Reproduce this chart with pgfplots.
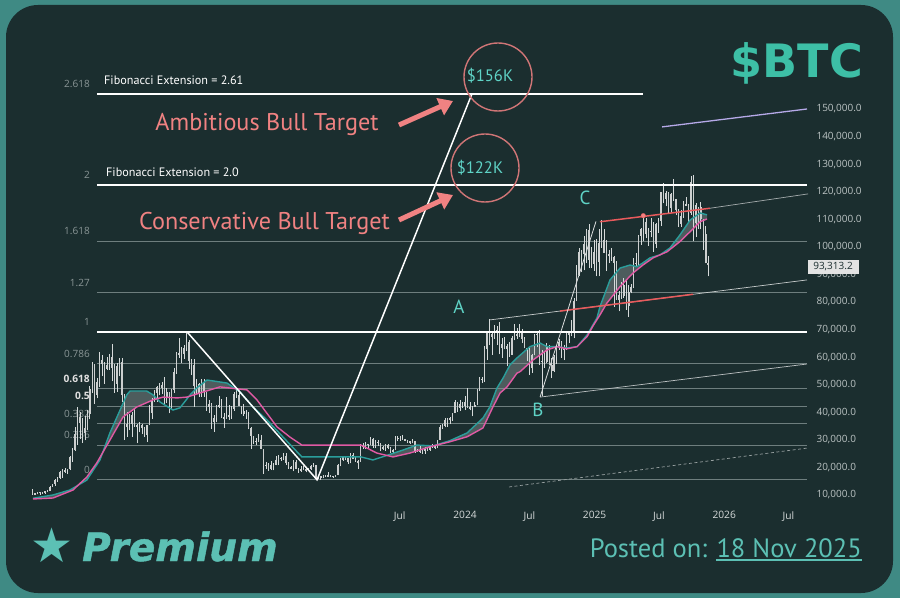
\documentclass[border=0pt]{standalone}
\usepackage{pgfplots}
\pgfplotsset{compat=1.18}
\usetikzlibrary{arrows.meta}
\usepackage{pgfplotstable}
\usepackage{fontspec}
\setmainfont{PT Sans}
\newfontfamily\axfont{Open Sans}
\newfontfamily\btcfont{DejaVu Sans}
\newfontfamily\premfont[FakeBold=1.2]{DejaVu Sans}
\newfontfamily\symfont{DejaVu Sans}
\pgfplotsset{/pgf/number format/assume math mode=true}

\definecolor{outer}{HTML}{3F8A84}
\definecolor{panel}{HTML}{1B2E2F}
\definecolor{btcteal}{HTML}{3DBFA6}
\definecolor{premteal}{HTML}{5CC0B4}
\definecolor{txtteal}{HTML}{5FD3C6}
\definecolor{salmon}{HTML}{F08282}
\definecolor{maT}{HTML}{2A9E9B}
\definecolor{maP}{HTML}{E05AA4}
\definecolor{fibgray}{HTML}{6E7E7E}
\definecolor{labgray}{HTML}{8A9696}
\definecolor{candle}{HTML}{D6DADA}
\definecolor{redline}{HTML}{E85A5C}
\definecolor{lav}{HTML}{B6A9E8}
\definecolor{cloud}{HTML}{8A9696}
\definecolor{ticklab}{HTML}{BCC4C4}
\definecolor{xlab}{HTML}{D6DADA}

\pgfplotstableread{
w o h l c
0 11.7 12.1 9.9 10.3
1 10.3 10.8 9.9 10.7
2 10.7 11.2 10.2 11.1
3 11.1 11.2 10.1 10.8
4 10.8 11.0 10.4 10.7
5 10.7 11.5 10.5 11.4
6 11.4 11.7 11.2 11.5
7 11.5 13.2 11.4 13.0
8 13.0 14.0 12.9 13.8
9 13.8 15.9 13.2 15.5
10 15.5 16.5 14.8 16.0
11 16.0 18.8 15.8 18.4
12 18.4 19.4 16.2 18.2
13 18.2 19.9 18.0 19.2
14 19.2 19.4 17.6 19.3
15 19.3 24.3 19.0 23.8
16 23.8 26.9 21.9 26.4
17 26.4 34.8 26.0 32.2
18 32.2 42.0 28.1 38.2
19 38.2 40.1 30.4 36.0
20 36.0 37.8 28.9 32.3
21 32.3 38.5 29.8 34.3
22 34.3 40.9 33.4 39.3
23 39.3 49.7 37.4 48.6
24 48.6 58.4 47.0 57.5
25 57.5 57.6 43.0 46.2
26 46.2 52.6 45.0 51.0
27 51.0 61.7 49.3 59.0
28 59.0 60.6 53.3 57.4
29 57.4 58.4 50.4 55.8
30 55.8 60.0 55.5 57.1
31 57.1 61.0 55.5 60.0
32 60.0 64.9 51.2 56.2
33 56.2 57.5 47.0 50.1
34 50.1 57.9 47.5 56.6
35 56.6 59.6 53.0 58.3
36 58.3 59.6 43.8 46.4
37 46.4 46.6 30.0 34.7
38 34.7 40.0 31.1 35.7
39 35.7 39.5 33.4 35.8
40 35.8 40.0 31.0 39.1
41 39.1 41.3 34.8 35.5
42 35.5 35.7 28.8 34.7
43 34.7 36.6 32.7 35.3
44 35.3 35.9 32.1 34.3
45 34.3 34.7 31.2 31.8
46 31.8 35.4 29.3 35.4
47 35.4 42.6 35.2 39.8
48 39.8 45.3 37.6 44.6
49 44.6 48.1 43.8 47.1
50 47.1 49.4 43.9 49.0
51 49.0 50.5 46.4 48.8
52 48.8 51.0 46.6 49.9
53 49.9 52.9 42.8 45.2
54 45.2 48.8 43.4 47.3
55 47.3 47.4 39.6 43.2
56 43.2 48.4 40.8 48.2
57 48.2 56.1 47.0 54.7
58 54.7 62.0 53.9 61.5
59 61.5 67.0 59.6 60.9
60 60.9 63.7 57.9 61.3
61 61.3 64.3 59.5 63.3
62 63.3 69.0 62.3 65.5
63 65.5 66.3 55.6 58.6
64 58.6 59.3 53.5 57.3
65 57.3 59.2 42.0 49.4
66 49.4 51.9 46.8 50.1
67 50.1 50.5 45.5 46.7
68 46.7 52.0 45.6 50.8
69 50.8 52.1 45.7 47.3
70 47.3 47.5 40.6 41.8
71 41.8 44.4 39.7 43.1
72 43.1 43.5 34.0 36.3
73 36.3 38.9 33.0 37.9
74 37.9 42.6 36.3 42.4
75 42.4 45.9 41.7 42.2
76 42.2 44.8 38.0 38.4
77 38.4 39.8 34.3 37.7
78 37.7 45.4 37.5 38.8
79 38.8 42.5 37.2 38.8
80 38.8 42.3 37.6 41.3
81 41.3 47.4 40.5 46.8
82 46.8 48.2 45.2 46.4
83 46.4 47.2 42.1 42.2
84 42.2 42.4 39.2 40.4
85 40.4 42.9 38.6 39.5
86 39.5 40.7 37.6 38.5
87 38.5 40.0 33.8 34.3
88 34.3 34.5 26.7 31.3
89 31.3 31.3 28.6 29.4
90 29.4 30.5 28.0 29.5
91 29.5 32.2 29.3 29.9
92 29.9 31.7 26.6 26.6
93 26.6 26.8 17.6 20.6
94 20.6 21.8 19.6 21.0
95 21.0 21.5 18.8 19.3
96 19.3 22.4 19.0 20.8
97 20.8 21.6 18.9 20.8
98 20.8 24.3 20.7 22.6
99 22.6 24.6 20.8 23.3
100 23.3 23.6 22.4 23.2
101 23.2 25.2 22.7 24.3
102 24.3 25.2 20.8 21.5
103 21.5 21.9 19.6 20.0
104 20.0 20.6 19.6 19.8
105 19.8 22.7 18.6 21.8
106 21.8 22.8 19.3 19.4
107 19.4 19.7 18.1 18.8
108 18.8 20.4 18.5 19.4
109 19.4 20.5 19.0 19.1
110 19.1 19.7 18.2 19.2
111 19.2 19.7 18.9 19.6
112 19.6 20.9 19.2 20.6
113 20.6 21.5 20.1 20.9
114 20.9 21.0 15.6 16.3
115 16.3 17.2 15.8 16.5
116 16.5 16.8 15.5 16.5
117 16.5 17.4 16.0 17.1
118 17.1 17.4 16.7 17.1
119 17.1 18.4 16.5 16.8
120 16.8 17.0 16.4 16.9
121 16.9 16.9 16.3 16.6
122 16.6 17.2 16.5 17.1
123 17.1 21.1 17.1 20.9
124 20.9 23.4 20.4 22.7
125 22.7 23.8 22.3 23.7
126 23.7 24.2 22.6 23.3
127 23.3 23.4 21.4 21.8
128 21.8 25.2 21.5 24.6
129 24.6 25.1 23.0 23.2
130 23.2 23.9 21.9 22.2
131 22.2 22.6 19.6 22.0
132 22.0 28.5 21.9 28.0
133 28.0 28.8 26.6 27.5
134 27.5 29.2 26.5 28.5
135 28.5 28.6 27.2 28.3
136 28.3 31.0 28.2 30.3
137 30.3 30.5 27.1 27.6
138 27.6 30.0 26.9 29.3
139 29.3 29.8 27.7 28.9
140 28.9 29.0 25.8 26.9
141 26.9 27.6 26.4 27.1
142 27.1 28.4 25.9 28.1
143 28.1 28.4 26.5 27.1
144 27.1 27.4 25.4 25.9
145 25.9 26.8 24.8 26.3
146 26.3 31.4 26.2 30.5
147 30.5 31.3 29.5 30.6
148 30.6 31.4 29.7 30.2
149 30.2 31.8 29.9 30.2
150 30.2 30.4 29.5 29.9
151 29.9 30.0 28.9 29.3
152 29.3 29.7 28.6 29.0
153 29.0 30.2 28.7 29.4
154 29.4 29.7 25.2 26.1
155 26.1 26.8 25.8 26.1
156 26.1 28.1 25.4 25.9
157 25.9 26.4 24.9 25.8
158 25.8 27.4 24.9 26.5
159 26.5 27.5 26.0 26.2
160 26.2 28.1 26.1 27.9
161 27.9 28.6 27.2 27.9
162 27.9 28.0 26.6 27.1
163 27.1 30.0 26.9 30.0
164 30.0 35.2 29.9 34.5
165 34.5 35.9 33.9 35.0
166 35.0 37.9 34.5 37.1
167 37.1 37.9 34.8 37.4
168 37.4 38.4 35.7 37.7
169 37.7 39.9 36.9 39.9
170 39.9 44.5 39.9 43.8
171 43.8 43.8 40.2 41.4
172 41.4 44.3 40.5 43.0
173 43.0 43.8 41.5 42.3
174 42.3 45.9 40.8 43.9
175 43.9 48.9 41.5 41.7
176 41.7 43.6 40.7 41.6
177 41.6 42.2 38.5 42.0
178 42.0 43.9 41.9 42.6
179 42.6 48.5 42.5 48.3
180 48.3 52.8 47.7 52.1
181 52.1 52.9 50.6 51.7
182 51.7 64.0 50.9 63.1
183 63.1 69.2 59.0 68.9
184 68.9 73.8 64.5 68.4
185 68.4 68.9 60.8 67.2
186 67.2 71.7 66.6 69.6
187 69.6 71.3 64.5 69.4
188 69.4 72.8 61.0 63.4
189 63.4 66.9 59.7 64.9
190 64.9 67.2 62.8 63.1
191 63.1 64.7 56.6 63.9
192 63.9 65.5 60.2 60.8
193 60.8 67.5 60.7 67.0
194 67.0 71.9 66.1 68.5
195 68.5 70.6 66.7 67.5
196 67.5 71.9 67.3 69.6
197 69.6 70.2 65.1 66.6
198 66.6 67.2 63.2 63.2
199 63.2 63.3 58.5 62.8
200 62.8 63.8 53.5 55.9
201 55.9 61.0 54.3 60.8
202 60.8 68.4 60.6 68.2
203 68.2 69.4 63.5 68.3
204 68.3 70.0 57.1 58.2
205 58.2 62.7 46.0 58.7
206 58.7 61.8 56.1 58.4
207 58.4 65.0 57.9 64.2
208 64.2 64.5 57.2 57.3
209 57.3 59.8 52.5 54.8
210 54.8 60.6 54.6 59.9
211 59.9 64.1 57.5 63.6
212 63.6 66.5 62.7 65.6
213 65.6 66.0 59.8 62.9
214 62.9 64.5 58.9 62.9
215 62.9 69.4 62.7 69.0
216 69.0 69.5 65.1 68.0
217 68.0 73.6 67.5 68.7
218 68.7 81.5 66.8 80.4
219 80.4 93.5 80.3 89.9
220 89.9 99.6 89.4 98.0
221 98.0 98.7 90.8 97.4
222 97.4 104.0 91.5 101.2
223 101.2 106.5 94.3 106.1
224 106.1 108.4 92.2 95.2
225 95.2 99.9 92.5 93.7
226 93.7 102.5 91.3 98.3
227 98.3 102.7 89.3 94.5
228 94.5 106.3 89.3 101.3
229 101.3 109.6 99.5 102.6
230 102.6 106.5 97.8 97.7
231 97.7 102.5 91.2 96.5
232 96.5 98.8 94.1 97.5
233 97.5 99.5 94.9 96.3
234 96.3 96.5 78.2 94.2
235 94.2 95.0 81.5 80.7
236 80.7 84.0 76.6 82.6
237 82.6 87.4 81.1 86.1
238 86.1 88.8 81.6 82.3
239 82.3 88.5 77.1 78.4
240 78.4 86.1 74.5 83.7
241 83.7 86.4 83.1 85.3
242 85.3 95.8 85.1 93.8
243 93.8 97.9 92.8 94.3
244 94.3 104.3 93.4 104.1
245 104.1 106.8 100.8 106.5
246 106.5 111.9 102.0 109.0
247 109.0 110.4 103.1 104.6
248 104.6 106.8 100.4 105.7
249 105.7 110.6 103.4 105.6
250 105.6 108.9 98.2 100.9
251 100.9 108.5 99.6 108.4
252 108.4 110.6 105.1 109.2
253 109.2 119.9 107.5 119.8
254 119.8 123.2 115.8 117.3
255 117.3 120.2 114.7 119.4
256 119.4 119.9 112.0 114.2
257 114.2 119.4 112.7 119.3
258 119.3 124.5 116.8 117.4
259 117.4 117.5 111.7 113.5
260 113.5 113.6 107.3 108.2
261 108.2 113.4 107.3 111.2
262 111.2 116.7 110.6 115.3
263 115.3 117.9 114.8 115.3
264 115.3 115.4 108.6 112.2
265 112.2 125.6 111.6 123.5
266 123.5 126.2 102.0 115.1
267 115.1 116.0 103.6 108.6
268 108.6 114.6 106.4 114.5
269 114.5 116.3 106.3 110.0
270 110.0 110.2 98.9 104.7
271 104.7 107.5 94.0 94.2
272 94.2 96.6 89.3 93.3
}\btc

\pgfplotstableread{
w v
0.14 8.8
8.2 10.0
15.0 11.8
21.8 15.4
27.1 22.7
31.1 32.5
35.2 40.8
37.9 46.3
39.2 47.7
45.9 47.7
48.5 46.3
51.3 43.7
56.5 40.8
59.3 41.6
63.4 46.3
66.05 48.8
70.2 51.7
78.25 50.6
83.5 47.4
88.7 41.9
94.35 37.2
100.8 31.0
108.4 23.8
132.2 23.8
137.0 22.7
141.1 23.9
149.1 26.3
154.7 28.1
161.2 27.8
168.0 29.7
174.9 32.5
181.3 37.9
184.1 42.0
186.95 48.8
189.4 52.4
192.2 57.2
195.0 59.7
200.2 63.8
204.3 65.1
207.1 63.8
211.1 63.8
215.1 63.3
219.2 63.8
223.2 68.0
227.2 74.2
228.4 78.3
232.45 88.0
236.5 92.3
240.5 93.4
243.3 92.8
245.7 94.2
248.55 96.0
252.6 97.1
256.6 99.6
260.6 104.3
264.7 109.7
268.7 112.3
271.5 111.6
}\tealma

\pgfplotstableread{
w v
0.14 8.55
8.2 8.9
16.25 11.8
21.8 16.5
25.8 21.6
31.1 29.9
36.4 38.3
41.9 41.9
48.5 44.5
52.5 45.5
58.1 45.2
62.1 45.5
67.4 47.0
75.4 49.2
86.3 48.1
90.3 44.5
98.4 34.7
103.6 31.0
108.4 28.1
132.2 28.1
138.6 25.2
145.1 23.8
151.9 25.2
160.0 27.5
168.0 29.3
174.9 31.1
181.3 34.3
185.3 41.9
188.2 47.0
191.0 49.2
195.0 54.2
196.2 54.7
201.5 59.0
207.1 62.6
211.1 63.8
215.1 63.0
219.2 63.8
223.2 67.4
225.6 71.3
228.4 75.3
231.2 79.6
236.5 85.6
241.7 90.5
245.7 93.4
249.8 96.0
255.4 98.2
260.6 101.9
264.7 105.5
268.7 109.1
271.5 110.1
}\pinkma

\begin{document}
\begin{tikzpicture}
\useasboundingbox (0,0) rectangle (900pt,598pt);
\fill[outer] (0,0) rectangle (900pt,598pt);
\fill[panel, rounded corners=32pt] (6pt,5pt) rectangle (893pt,593pt);

\begin{axis}[
  at={(25pt,92pt)}, anchor=south west,
  scale only axis, width=785pt, height=452.15pt,
  xmin=-3.08, xmax=312.97, ymin=6, ymax=170,
  clip=false,
  axis line style={draw=none},
  major tick length=0pt,
  xtick={147.77,174.07,200.02,226.25,252.12,278.42,304.30},
  xticklabels={Jul,2024,Jul,2025,Jul,2026,Jul},
  xticklabel style={font=\axfont\fontsize{10.2}{11}\selectfont, text=xlab, yshift=-2pt},
  ytick={10,20,...,150},
  yticklabels={{10,000.0},{20,000.0},{30,000.0},{40,000.0},{50,000.0},{60,000.0},{70,000.0},{80,000.0},{90,000.0},{100,000.0},{110,000.0},{120,000.0},{130,000.0},{140,000.0},{150,000.0}},
  yticklabel pos=right,
  yticklabel style={font=\axfont\fontsize{10}{11}\selectfont, text=ticklab, anchor=west, xshift=3pt},
]
% thin Fibonacci levels
\addplot[fibgray, line width=0.8pt] coordinates {(25.9,15.5) (311.76,15.5)};
\addplot[fibgray, line width=0.8pt] coordinates {(25.9,28.13) (311.76,28.13)};
\addplot[fibgray, line width=0.8pt] coordinates {(25.9,35.94) (311.76,35.94)};
\addplot[fibgray, line width=0.8pt] coordinates {(25.9,42.25) (311.76,42.25)};
\addplot[fibgray, line width=0.8pt] coordinates {(25.9,48.56) (311.76,48.56)};
\addplot[fibgray, line width=0.8pt] coordinates {(25.9,57.55) (311.76,57.55)};
\addplot[fibgray, line width=0.8pt] coordinates {(25.9,83.45) (311.76,83.45)};
\addplot[fibgray, line width=0.8pt] coordinates {(25.9,102.07) (311.76,102.07)};
% level labels
\begin{scope}[every node/.style={anchor=east, inner sep=0pt, xshift=-7pt, yshift=10pt, font=\axfont\fontsize{10}{11}\selectfont, text=labgray}]
\node at (axis cs:25.9,155.56) {2.618};
\node at (axis cs:25.9,122.5) {2};
\node at (axis cs:25.9,102.07) {1.618};
\node at (axis cs:25.9,83.45) {1.27};
\node at (axis cs:25.9,69.0) {1};
\node at (axis cs:25.9,57.55) {0.786};
\node[text=white!88!black, font=\axfont\bfseries\fontsize{10.2}{11}\selectfont] at (axis cs:25.9,48.56) {0.618};
\node[text=white!88!black, font=\axfont\bfseries\fontsize{10.2}{11}\selectfont] at (axis cs:25.9,42.25) {0.5};
\node at (axis cs:25.9,35.94) {0.382};
\node at (axis cs:25.9,28.13) {0.236};
\node at (axis cs:25.9,15.5) {0};
\end{scope}
\node[anchor=west, inner sep=0pt, text=white, font=\fontsize{12.2}{14}\selectfont, xshift=7pt, yshift=13.5pt] at (axis cs:25.9,155.56) {Fibonacci Extension = 2.61};
\node[anchor=west, inner sep=0pt, text=white, font=\fontsize{12.2}{14}\selectfont, xshift=9pt, yshift=12.5pt] at (axis cs:25.9,122.5) {Fibonacci Extension = 2.0};

% cloud between the two averages (teal above pink)
\addplot[fill=cloud, fill opacity=0.45, draw=none] coordinates {
(0.14,8.8)(8.2,10.0)(15.0,11.8)(21.8,15.4)(27.1,22.7)(31.1,32.5)(35.2,40.8)(37.9,46.3)(39.2,47.7)(45.9,47.7)(48.5,46.3)(50.0,44.9)
(48.5,44.5)(41.9,41.9)(36.4,38.3)(31.1,29.9)(25.8,21.6)(21.8,16.5)(16.25,11.8)(8.2,8.9)(0.14,8.55)} --cycle;
\addplot[fill=cloud, fill opacity=0.45, draw=none] coordinates {
(62.9,45.7)(63.4,46.3)(66.05,48.8)(70.2,51.7)(78.25,50.6)(81.3,48.7)(75.4,49.2)(67.4,47.0)(62.9,45.7)} --cycle;
\addplot[fill=cloud, fill opacity=0.45, draw=none] coordinates {
(142.5,24.3)(149.1,26.3)(154.7,28.1)(161.2,27.8)(168.0,29.7)(174.9,32.5)(181.3,37.9)(184.1,42.0)(186.95,48.8)(189.4,52.4)(192.2,57.2)(195.0,59.7)(200.2,63.8)(204.3,65.1)(207.1,63.8)(211.1,63.8)(215.1,63.3)(219.2,63.8)(223.2,68.0)(227.2,74.2)(228.4,78.3)(232.45,88.0)(236.5,92.3)(240.5,93.4)(243.3,92.8)(245.7,94.2)(248.55,96.0)(252.6,97.1)(256.6,99.6)(260.6,104.3)(264.7,109.7)(268.7,112.3)(271.5,111.6)
(271.5,110.1)(268.7,109.1)(264.7,105.5)(260.6,101.9)(255.4,98.2)(249.8,96.0)(245.7,93.4)(241.7,90.5)(236.5,85.6)(231.2,79.6)(228.4,75.3)(225.6,71.3)(223.2,67.4)(219.2,63.8)(215.1,63.0)(211.1,63.8)(207.1,62.6)(201.5,59.0)(196.2,54.7)(195.0,54.2)(191.0,49.2)(188.2,47.0)(185.3,41.9)(181.3,34.3)(174.9,31.1)(168.0,29.3)(160.0,27.5)(151.9,25.2)(145.1,23.8)(142.5,24.3)} --cycle;

% candles: wicks and bodies
\addplot[draw=none, mark=none, error bars/.cd, y dir=plus, y explicit, error mark=none,
  error bar style={line width=0.6pt, draw=candle}]
  table[x=w, y=l, y error expr=\thisrow{h}-\thisrow{l}] {\btc};
\addplot[draw=none, mark=none, error bars/.cd, y dir=both, y explicit, error mark=none,
  error bar style={line width=1.5pt, draw=candle!88!gray}]
  table[x=w, y expr=(\thisrow{o}+\thisrow{c})/2, y error expr={max(abs(\thisrow{c}-\thisrow{o})/2,0.25)}] {\btc};

% moving averages
\addplot[maT, line width=1.4pt] table[x=w, y=v] {\tealma};
\addplot[maP, line width=1.4pt] table[x=w, y=v] {\pinkma};

% thick white levels and swing lines
\addplot[white, line width=1.8pt] coordinates {(25.9,69.0) (311.76,69.0)};
\addplot[white, line width=1.8pt] coordinates {(25.9,122.5) (311.76,122.5)};
\addplot[white, line width=1.8pt] coordinates {(25.9,155.56) (245.7,155.56)};
\addplot[white, line width=1.5pt] coordinates {(62.3,69.0) (114.5,15.5) (176.9,155.56)};

% trend lines
\addplot[white!75!panel, line width=0.7pt] coordinates {(184.1,73.5) (311.76,88.0)};
\addplot[redline, line width=1.5pt] coordinates {(212.3,76.7) (265.9,82.8)};
\addplot[white!70!panel, line width=0.7pt] coordinates {(204.3,45.5) (311.76,57.5)};
\addplot[white!85!panel, line width=0.8pt] coordinates {(204.3,45.5) (226.8,109.2)};
\addplot[redline, line width=1.5pt] coordinates {(228.4,109.1) (272.7,114.0)};
\addplot[white!60!panel, line width=0.7pt] coordinates {(272.7,114.0) (312.2,119.2)};
\addplot[only marks, mark=*, mark size=2.3pt, mark options={fill=salmon, draw=redline}] coordinates {(245.85,111.3)};
\addplot[lav, line width=1.3pt] coordinates {(253.4,143.5) (311.76,150.0)};
\addplot[white!55!panel, line width=0.7pt, dash pattern=on 3pt off 2.5pt] coordinates {(191.8,12.9) (311.76,27.0)};
\end{axis}

\begin{scope}[x=1pt, y=-1pt, shift={(0pt,598pt)}]
% price box
\node[fill=white!78!gray, text=panel, inner sep=0pt, minimum width=51pt, minimum height=14pt, font=\axfont\fontsize{10}{11}\selectfont] at (833,267) {93,313.2};
% annotations
\node[text=salmon, font=\fontsize{24.2}{27}\selectfont] at (267,124) {Ambitious Bull Target};
\node[text=salmon, font=\fontsize{24.2}{27}\selectfont] at (264.5,223) {Conservative Bull Target};
\draw[salmon, line width=5pt, -{Triangle[length=14pt,width=18pt]}] (399,125) -- (453,101);
\draw[salmon, line width=5pt, -{Triangle[length=14pt,width=18pt]}] (399,220) -- (453,195);
\draw[salmon!85!panel, line width=1.4pt] (498,77) circle[radius=34pt];
\draw[salmon!85!panel, line width=1.4pt] (485,168) circle[radius=34pt];
\node[text=txtteal, font=\fontsize{16.6}{18}\selectfont] at (490,76) {\$156K};
\node[text=txtteal, font=\fontsize{16.6}{18}\selectfont] at (480,168) {\$122K};
\node[text=txtteal, font=\fontsize{19}{21}\selectfont] at (459,307) {A};
\node[text=txtteal, font=\fontsize{19}{21}\selectfont] at (538,410) {B};
\node[text=txtteal, font=\fontsize{19}{21}\selectfont] at (585,198) {C};
% header and footer
\node[text=btcteal, font=\btcfont\bfseries\fontsize{46}{50}\selectfont] at (797,63) {\$BTC};
\node[text=premteal, font=\symfont\fontsize{48}{52}\selectfont] at (52,545) {★};
\node[anchor=base west, inner sep=0pt, text=premteal, font=\premfont\bfseries\itshape\fontsize{39}{44}\selectfont] at (82,561) {Premium};
\node (d) [anchor=base east, inner sep=0pt, text=premteal, font=\fontsize{26.5}{30}\selectfont] at (862,557) {18 Nov 2025};
\draw[premteal, line width=1.5pt] ([yshift=-3pt]d.base west) -- ([yshift=-3pt]d.base east);
\node[anchor=base east, inner sep=0pt, text=premteal, font=\fontsize{26.5}{30}\selectfont] at ([xshift=-9pt]d.base west) {Posted on:};
\end{scope}
\end{tikzpicture}
\end{document}
